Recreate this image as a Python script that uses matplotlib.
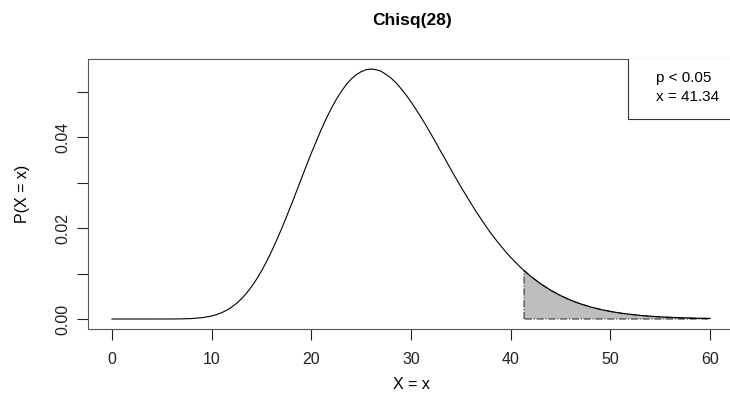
import matplotlib
matplotlib.use('Agg')
import matplotlib.pyplot as plt
from matplotlib.patches import Rectangle

plt.rcParams['font.family'] = ['Liberation Sans', 'DejaVu Sans']

# densidade (passo de 0.5 na parte mais curva)
x_vals = [0, 1, 2, 3, 4, 5, 6, 7, 8, 9,
          10, 10.5, 11, 11.5, 12, 12.5, 13, 13.5, 14, 14.5,
          15, 15.5, 16, 16.5, 17, 17.5, 18, 18.5, 19, 19.5,
          20, 20.5, 21, 21.5, 22, 22.5, 23, 23.5, 24, 24.5,
          25, 25.5, 26, 26.5, 27, 27.5, 28, 28.5, 29, 29.5,
          30, 30.5, 31, 31.5, 32, 32.5, 33, 33.5, 34, 34.5,
          35, 35.5, 36, 36.5, 37, 37.5, 38, 38.5, 39, 39.5,
          40, 41, 42, 43, 44, 45, 46, 47, 48, 49,
          50, 51, 52, 53, 54, 55, 56, 57, 58, 59, 60]
dens = [0.0, 0.0, 0.0, 0.0, 0.0000001, 0.000001, 0.0000064, 0.000029, 0.000099, 0.000277,
        0.00066, 0.00097, 0.00138, 0.00192, 0.0026, 0.00344, 0.00446, 0.00568, 0.0071, 0.00872,
        0.01056, 0.01259, 0.01482, 0.01722, 0.01976, 0.02244, 0.02519, 0.0280, 0.03087, 0.0337,
        0.03648, 0.0391, 0.0417, 0.0441, 0.0463, 0.0483, 0.05003, 0.05155, 0.0528, 0.05375,
        0.0544, 0.05485, 0.0550, 0.05485, 0.0545, 0.0538, 0.0530, 0.05195, 0.0507, 0.0493,
        0.0478, 0.0461, 0.0444, 0.0426, 0.0407, 0.0388, 0.0368, 0.0349, 0.0329, 0.0310,
        0.0291, 0.0273, 0.0255, 0.02373, 0.0221, 0.02045, 0.0189, 0.01748, 0.0161, 0.01479,
        0.01355, 0.01133, 0.00941, 0.00775, 0.00634, 0.00515, 0.00415, 0.00333, 0.00266, 0.00211,
        0.00166, 0.0013, 0.00102, 0.00079, 0.00061, 0.00047, 0.00036, 0.000275, 0.00021, 0.00016,
        0.00012]

# valor critico e cauda sombreada
x_crit = 41.34
dens_crit = 0.01065
p_text = 'p < 0.05'

i42 = x_vals.index(42)
tail_x = [x_crit] + x_vals[i42:]
tail_y = [dens_crit] + dens[i42:]

fig = plt.figure(figsize=(7.3, 4.07), dpi=100)
ax = fig.add_axes([88 / 730, 78 / 407, 646 / 730, 270 / 407])

poly_x = [x_crit] + tail_x + [tail_x[-1], x_crit]
poly_y = [0] + tail_y + [0, 0]
ax.fill(poly_x, poly_y, facecolor='#bebebe', edgecolor='#333333',
        linestyle='-.', linewidth=0.8)
ax.plot(x_vals, dens, color='black', linewidth=0.8)

ax.set_xlim(-2.4, 62.4)
ax.set_ylim(-0.0022, 0.0572)
ax.set_xticks(range(0, 61, 10))
ax.set_yticks([0, 0.01, 0.02, 0.03, 0.04, 0.05])
ax.set_yticklabels(['0.00', '', '0.02', '', '0.04', ''], rotation=90, va='center')
ax.tick_params(axis='both', length=8, width=0.8, labelsize=11.5, colors='#222222')
ax.tick_params(axis='x', pad=8.5)
ax.tick_params(axis='y', pad=5)
for s in ax.spines.values():
    s.set_color('#555555')
    s.set_linewidth(0.8)

ax.set_xlabel('X = x', fontsize=11.5)
ax.xaxis.set_label_coords(0.5, -0.178)
ax.set_ylabel('P(X = x)', fontsize=11.5)
ax.yaxis.set_label_coords(-0.09, 0.5)
fig.text(0.565, 1 - 20 / 407, 'Chisq(28)', fontsize=12.5, fontweight='bold',
         ha='center', va='center')

# legenda no canto superior direito
ax.add_patch(Rectangle((0.836, 0.778), 0.2, 0.3, transform=ax.transAxes,
                       facecolor='white', edgecolor='#333333', linewidth=0.8, zorder=5))
ax.text(0.879, 0.9296, p_text, transform=ax.transAxes, ha='left', va='center',
        fontsize=11, zorder=6)
ax.text(0.879, 0.859, 'x = ' + str(x_crit), transform=ax.transAxes, ha='left', va='center',
        fontsize=11, zorder=6)

fig.savefig('out.png', dpi=100)
